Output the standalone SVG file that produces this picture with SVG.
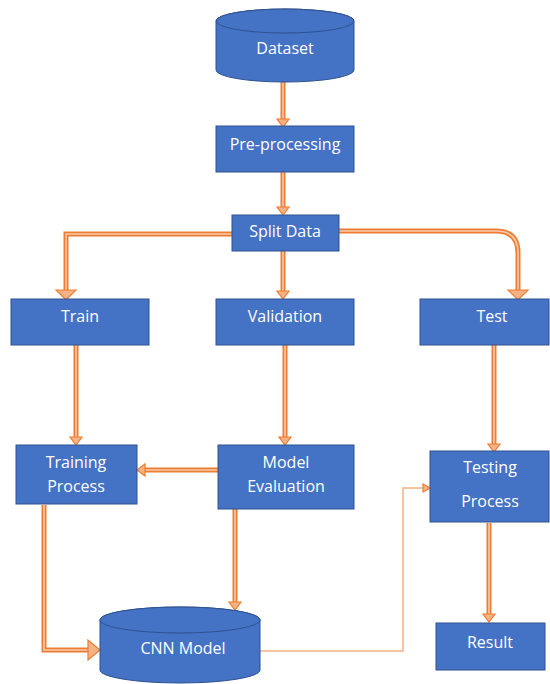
<svg xmlns="http://www.w3.org/2000/svg" width="550" height="684" viewBox="0 0 550 684">
<style>
.box{fill:#4472C4;stroke:#2F528F;stroke-width:1}
.lbl{fill:#FFFFFF;font-family:"Open Sans","Liberation Sans",sans-serif;font-size:16px;text-anchor:middle;dominant-baseline:central}
.out{fill:none;stroke:#ED7D31;stroke-width:5}
.in{fill:none;stroke:#F8CBAD;stroke-width:1.6}
.thin{fill:none;stroke:#F4B183;stroke-width:1.5}
.head{fill:#F4B183;stroke:#ED7D31;stroke-width:1.2;stroke-linejoin:miter}
</style>
<rect width="550" height="684" fill="#FFFFFF"/>
<g id="connectors">
  <path class="out" d="M283,82 V120"/><path class="in" d="M283,82 V120"/>
  <polygon class="head" points="277,119 289,119 283,127"/>
  <path class="out" d="M283,172 V208"/><path class="in" d="M283,172 V208"/>
  <polygon class="head" points="277,207 289,207 283,215"/>
  <path class="out" d="M232,234 H66 V291"/><path class="in" d="M232,234 H66 V291"/>
  <polygon class="head" points="56,290 76,290 66,300"/>
  <path class="out" d="M283,251 V292"/><path class="in" d="M283,251 V292"/>
  <polygon class="head" points="277,291 289,291 283,299"/>
  <path class="out" d="M339,231 H496 Q518,231 518,253 V291"/><path class="in" d="M339,231 H496 Q518,231 518,253 V291"/>
  <polygon class="head" points="508,290 528,290 518,300"/>
  <path class="out" d="M76,345 V438"/><path class="in" d="M76,345 V438"/>
  <polygon class="head" points="70,437 82,437 76,445"/>
  <path class="out" d="M285,345 V438"/><path class="in" d="M285,345 V438"/>
  <polygon class="head" points="279,437 291,437 285,445"/>
  <path class="out" d="M494,345 V445"/><path class="in" d="M494,345 V445"/>
  <polygon class="head" points="488,444 500,444 494,452"/>
  <path class="out" d="M218,470 H144"/><path class="in" d="M218,470 H144"/>
  <polygon class="head" points="145,464 145,476 137,470"/>
  <path class="out" d="M235,509 V603"/><path class="in" d="M235,509 V603"/>
  <polygon class="head" points="229,602 241,602 235,610"/>
  <path class="out" d="M44,505 V650 H89"/><path class="in" d="M44,505 V650 H89"/>
  <polygon class="head" points="88,640 88,660 100,650"/>
  <path class="thin" d="M260,651 H403 V488 H424"/>
  <polygon class="head" points="423,484 423,492 430,488"/>
  <path class="out" d="M489,523 V615"/><path class="in" d="M489,523 V615"/>
  <polygon class="head" points="483,614 495,614 489,622"/>
</g>
<g id="dataset">
  <path class="box" d="M216,21 V70 A69,12 0 0 0 354,70 V21 A69,12 0 0 0 216,21 Z"/>
  <ellipse class="box" cx="285" cy="21" rx="69" ry="12"/>
  <text class="lbl" x="285" y="48">Dataset</text>
</g>
<g id="preprocessing">
  <rect class="box" x="216" y="126" width="138" height="46"/>
  <text class="lbl" x="285" y="144">Pre-processing</text>
</g>
<g id="split">
  <rect class="box" x="232" y="215" width="107" height="36"/>
  <text class="lbl" x="285" y="231">Split Data</text>
</g>
<g id="train">
  <rect class="box" x="11" y="299" width="138" height="46"/>
  <text class="lbl" x="80" y="316">Train</text>
</g>
<g id="validation">
  <rect class="box" x="216" y="299" width="138" height="46"/>
  <text class="lbl" x="285" y="316">Validation</text>
</g>
<g id="test">
  <rect class="box" x="420" y="299" width="129" height="46"/>
  <text class="lbl" x="492" y="316">Test</text>
</g>
<g id="training-process">
  <rect class="box" x="16" y="445" width="121" height="59"/>
  <text class="lbl" x="76" y="462">Training</text>
  <text class="lbl" x="76" y="486">Process</text>
</g>
<g id="model-evaluation">
  <rect class="box" x="218" y="445" width="136" height="64"/>
  <text class="lbl" x="286" y="462">Model</text>
  <text class="lbl" x="286" y="486">Evaluation</text>
</g>
<g id="testing-process">
  <rect class="box" x="430" y="451" width="119" height="71"/>
  <text class="lbl" x="490" y="467">Testing</text>
  <text class="lbl" x="490" y="501">Process</text>
</g>
<g id="cnn-model">
  <path class="box" d="M100,620 V670 A80,13 0 0 0 260,670 V620 A80,13 0 0 0 100,620 Z"/>
  <ellipse class="box" cx="180" cy="620" rx="80" ry="13"/>
  <text class="lbl" x="183" y="648">CNN Model</text>
</g>
<g id="result">
  <rect class="box" x="436" y="623" width="109" height="47"/>
  <text class="lbl" x="490" y="642">Result</text>
</g>
</svg>
